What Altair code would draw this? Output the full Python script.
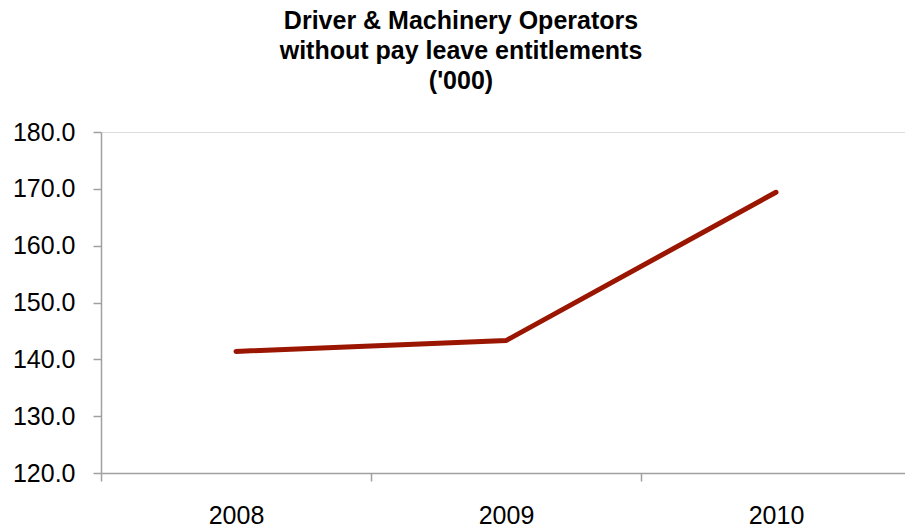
import altair as alt
import pandas as pd

years = ["2008", "2009", "2010"]
values = [141.4, 143.3, 169.4]

df = pd.DataFrame({"year": years, "value": values})

line = alt.Chart(df).mark_line(color="#9a1600", strokeWidth=5, strokeCap="round").encode(
    x=alt.X("year:N", title=None, sort=years,
            scale=alt.Scale(type="band", paddingInner=0, paddingOuter=0, range=[0, 810]),
            axis=alt.Axis(tickBand="extent", labelAngle=0, labelFontSize=25, labelFont="Liberation Sans",
                          labelColor="black", tickSize=8, labelPadding=22, domainColor="#a0a0a0",
                          tickColor="#a0a0a0", domainWidth=1.5, tickWidth=1.5, grid=False)),
    y=alt.Y("value:Q", title=None,
            scale=alt.Scale(domain=[120, 180], nice=False, zero=False),
            axis=alt.Axis(values=[120, 130, 140, 150, 160, 170, 180], format=".1f", labelFontSize=25,
                          labelFont="Liberation Sans", labelColor="black", tickSize=8, labelPadding=18,
                          domainColor="#a0a0a0", tickColor="#a0a0a0", domainWidth=1.5, tickWidth=1.5,
                          grid=False)),
)

chart = line.properties(
    width=804,
    height=341,
    autosize=alt.AutoSizeParams(type="none"),
    padding={"left": 101, "top": 132, "right": 0, "bottom": 59},
    title=alt.TitleParams(
        text=["Driver & Machinery Operators", "without pay leave entitlements", "('000)"],
        font="Liberation Sans", fontSize=25, fontWeight="bold", color="black",
        anchor="middle", dx=-42, lineHeight=30, offset=26,
    ),
).configure_view(stroke=None).configure(background="white")

chart.save("out.html", embed_options={"renderer": "svg", "actions": False})
